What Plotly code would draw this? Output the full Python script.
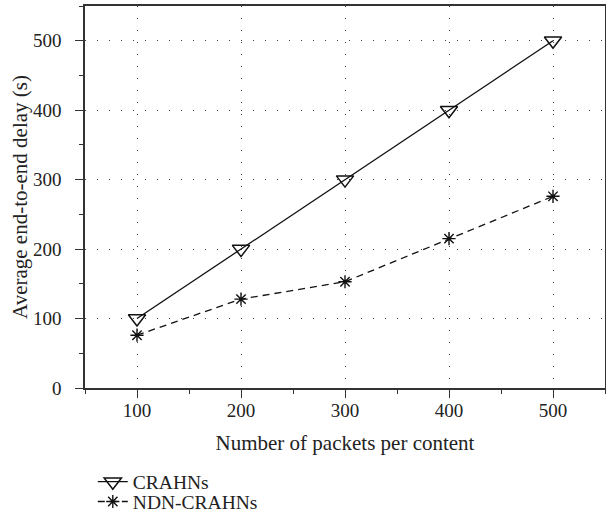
import plotly.graph_objects as go

packets = [100, 200, 300, 400, 500]
crahns = [100, 200, 300, 400, 500]
ndn_crahns = [76, 128, 153, 215, 276]

x_ticks = [100, 200, 300, 400, 500]
y_ticks = [0, 100, 200, 300, 400, 500]
top_minor_ticks = [150, 250, 350, 450]

FONT = "Liberation Serif"
INK = "#222222"
AXIS = "#333333"

fig = go.Figure()
fig.add_trace(go.Scatter(
    x=packets, y=crahns, name="CRAHNs", mode="lines+markers",
    line=dict(color="#111111", width=1.3),
    marker=dict(symbol="triangle-down-open", size=15, color="#111111",
                line=dict(width=1.5, color="#111111")),
    legend="legend",
))
fig.add_trace(go.Scatter(
    x=packets, y=ndn_crahns, name="NDN-CRAHNs", mode="lines+markers",
    line=dict(color="#111111", width=1.3, dash="7px,5px"),
    marker=dict(symbol="asterisk-open", size=11, color="#111111",
                line=dict(width=1.4, color="#111111")),
    legend="legend2",
))

fig.update_layout(
    template="none",
    width=606, height=522,
    margin=dict(l=85, r=1, t=6, b=134, autoexpand=False),
    paper_bgcolor="white", plot_bgcolor="white",
    font=dict(family=FONT, size=19, color=INK),
    showlegend=True,
    legend=dict(x=0.015, y=-0.246, xanchor="left", yanchor="middle",
                font=dict(family=FONT, size=19.5, color=INK), bgcolor="rgba(0,0,0,0)"),
    legend2=dict(x=0.015, y=-0.298, xanchor="left", yanchor="middle",
                 font=dict(family=FONT, size=19.5, color=INK), bgcolor="rgba(0,0,0,0)"),
    xaxis=dict(
        automargin=False,
        range=[50, 550], tickvals=x_ticks, ticks="outside", ticklen=8, tickwidth=1.2,
        tickcolor=AXIS, showline=True, linecolor=AXIS, linewidth=1.5, mirror=True,
        showgrid=True, gridcolor="#444444", gridwidth=1, griddash="1px,11px",
        zeroline=False, tickfont=dict(size=19, family=FONT, color=INK),
        ticklabelstandoff=-4,
        minor=dict(dtick=50, tick0=50, ticks="outside", ticklen=4, tickwidth=1.2,
                   tickcolor=AXIS, showgrid=False),
        title=dict(text="Number of packets per content", standoff=16,
                   font=dict(size=21, family=FONT, color=INK)),
    ),
    xaxis2=dict(
        automargin=False,
        overlaying="x", side="top", range=[50, 550], tickvals=top_minor_ticks,
        ticks="outside", ticklen=4, tickwidth=1.2, tickcolor=AXIS,
        showticklabels=False, showgrid=False, showline=False, zeroline=False,
    ),
    yaxis=dict(
        automargin=False,
        range=[0, 550], tickvals=y_ticks, ticks="outside", ticklen=8, tickwidth=1.2,
        tickcolor=AXIS, showline=True, linecolor=AXIS, linewidth=1.5, mirror=True,
        showgrid=True, gridcolor="#444444", gridwidth=1, griddash="1px,11px",
        zeroline=False, tickfont=dict(size=19, family=FONT, color=INK),
        ticklabelstandoff=10,
        minor=dict(dtick=50, tick0=0, ticks="outside", ticklen=4, tickwidth=1.2,
                   tickcolor=AXIS, showgrid=False),
        title=dict(text="Average end-to-end delay (s)", standoff=0,
                   font=dict(size=21, family=FONT, color=INK)),
    ),
)

fig.write_html("out.html", config={"displayModeBar": False},
               post_script="document.body.style.margin='0px';")
